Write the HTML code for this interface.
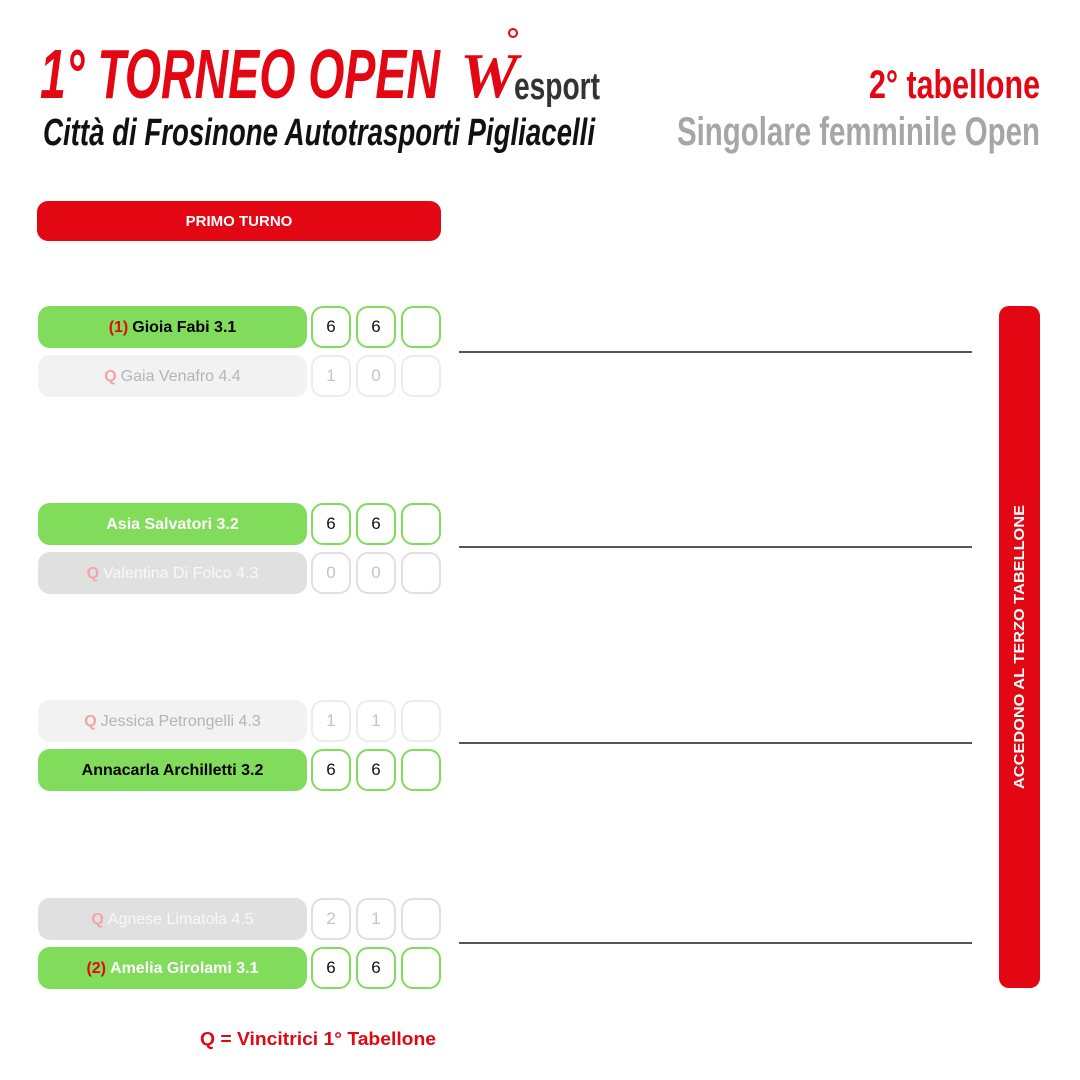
<!DOCTYPE html>
<html><head><meta charset="utf-8"><style>
body{margin:0;width:1080px;height:1080px;background:#fff;position:relative;overflow:hidden;font-family:"Liberation Sans",sans-serif}
.a{position:absolute}
.n{position:absolute;left:38px;width:269px;height:42px;border-radius:12px;display:flex;align-items:center;justify-content:center;font-size:16px;padding-top:1px;box-sizing:border-box}
.w{background:#80dc5a;font-weight:bold}
.l1{background:#f2f2f2;color:#b4b4b4}
.l2{background:#e0e0e0;color:#f8f8f8}
.s{position:absolute;width:36px;height:38px;border-radius:12px;display:flex;align-items:center;justify-content:center;font-size:17px;box-sizing:content-box}
.sg{border:2px solid #80dc5a;color:#111}
.sl{border:2px solid #ececec;color:#c4c4c4}
.q{color:#f4a3a8;font-weight:bold;margin-right:4px}
.r{color:#e30613;margin-right:4px}
.ln{position:absolute;left:459px;width:513px;height:2px;background:#555}
</style></head><body>
<svg class="a" style="left:0;top:0" width="1080" height="160">
<text x="40" y="98" font-family="Liberation Sans" font-weight="bold" font-style="italic" font-size="70" fill="#e30613" textLength="400" lengthAdjust="spacingAndGlyphs">1° TORNEO OPEN</text>
<text x="460" y="97" font-family="Liberation Serif" font-style="italic" font-weight="bold" font-size="64" fill="#e30613" textLength="58" lengthAdjust="spacingAndGlyphs">W</text>
<text x="514" y="99" font-family="Liberation Sans" font-weight="bold" font-size="38" fill="#333" textLength="86" lengthAdjust="spacingAndGlyphs">esport</text>
<circle cx="513" cy="33" r="4" fill="none" stroke="#e30613" stroke-width="2"/>
<text x="43" y="145" font-family="Liberation Sans" font-weight="bold" font-style="italic" font-size="38" fill="#111" textLength="552" lengthAdjust="spacingAndGlyphs">Città di Frosinone Autotrasporti Pigliacelli</text>
<text x="869" y="98" font-family="Liberation Sans" font-weight="bold" font-size="40" fill="#e30613" textLength="171" lengthAdjust="spacingAndGlyphs">2° tabellone</text>
<text x="677" y="145" font-family="Liberation Sans" font-weight="bold" font-size="40" fill="#a6a6a6" textLength="363" lengthAdjust="spacingAndGlyphs">Singolare femminile Open</text>
</svg>
<div class="a" style="left:37px;top:201px;width:404px;height:40px;background:#e30613;border-radius:11px;color:#fff;font-weight:bold;font-size:15px;display:flex;align-items:center;justify-content:center;padding-top:1px;box-sizing:border-box">PRIMO TURNO</div>

<div class="n w" style="top:306px"><span class="r">(1)</span><span style="color:#000">Gioia Fabi 3.1</span></div>
<div class="n l1" style="top:355px"><span class="q">Q</span>Gaia Venafro 4.4</div>
<div class="n w" style="top:503px;color:#fff">Asia Salvatori 3.2</div>
<div class="n l2" style="top:552px"><span class="q">Q</span>Valentina Di Folco 4.3</div>
<div class="n l1" style="top:700px"><span class="q">Q</span>Jessica Petrongelli 4.3</div>
<div class="n w" style="top:749px;color:#000">Annacarla Archilletti 3.2</div>
<div class="n l2" style="top:898px"><span class="q">Q</span>Agnese Limatola 4.5</div>
<div class="n w" style="top:947px;color:#fff"><span class="r">(2)</span>Amelia Girolami 3.1</div>

<div class="s sg" style="left:311px;top:306px">6</div><div class="s sg" style="left:356px;top:306px">6</div><div class="s sg" style="left:401px;top:306px"></div>
<div class="s sl" style="left:311px;top:355px">1</div><div class="s sl" style="left:356px;top:355px">0</div><div class="s sl" style="left:401px;top:355px"></div>
<div class="s sg" style="left:311px;top:503px">6</div><div class="s sg" style="left:356px;top:503px">6</div><div class="s sg" style="left:401px;top:503px"></div>
<div class="s sl" style="left:311px;top:552px;border-color:#e0e0e0">0</div><div class="s sl" style="left:356px;top:552px;border-color:#e0e0e0">0</div><div class="s sl" style="left:401px;top:552px;border-color:#e0e0e0"></div>
<div class="s sl" style="left:311px;top:700px">1</div><div class="s sl" style="left:356px;top:700px">1</div><div class="s sl" style="left:401px;top:700px"></div>
<div class="s sg" style="left:311px;top:749px">6</div><div class="s sg" style="left:356px;top:749px">6</div><div class="s sg" style="left:401px;top:749px"></div>
<div class="s sl" style="left:311px;top:898px;border-color:#e0e0e0">2</div><div class="s sl" style="left:356px;top:898px;border-color:#e0e0e0">1</div><div class="s sl" style="left:401px;top:898px;border-color:#e0e0e0"></div>
<div class="s sg" style="left:311px;top:947px">6</div><div class="s sg" style="left:356px;top:947px">6</div><div class="s sg" style="left:401px;top:947px"></div>

<div class="ln" style="top:351px"></div>
<div class="ln" style="top:546px"></div>
<div class="ln" style="top:742px"></div>
<div class="ln" style="top:942px"></div>

<div class="a" style="left:999px;top:306px;width:41px;height:682px;background:#e30613;border-radius:10px"></div>
<svg class="a" style="left:999px;top:306px" width="41" height="682"><text transform="translate(25,341) rotate(-90)" text-anchor="middle" font-family="Liberation Sans" font-weight="bold" font-size="15" fill="#fff" textLength="284" lengthAdjust="spacingAndGlyphs">ACCEDONO AL TERZO TABELLONE</text></svg>

<svg class="a" style="left:0;top:1020px" width="1080" height="40"><text x="200" y="25" font-family="Liberation Sans" font-weight="bold" font-size="18" fill="#e30613" textLength="236" lengthAdjust="spacingAndGlyphs">Q = Vincitrici 1° Tabellone</text></svg>
</body></html>
